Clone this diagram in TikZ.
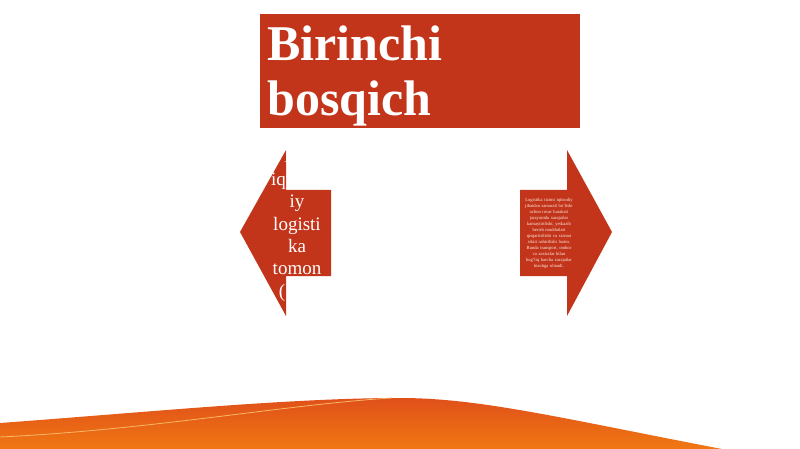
\documentclass[tikz,border=0pt]{standalone}
\usepackage{fontspec}
\setmainfont{Liberation Serif}
\usepackage{xcolor}
\usepackage{tikz}
\definecolor{boxred}{HTML}{C3351A}
\definecolor{wavetop}{HTML}{E0501A}
\definecolor{wavebot}{HTML}{F07812}
\definecolor{waveline}{HTML}{F8B868}
\definecolor{paletext}{HTML}{FBEDE4}
\tikzset{
    arrowfill/.style = {fill = boxred, draw = none},
    armtext/.style = {text = white, inner sep = 0pt, align = center}
}

\begin{document}
\begin{tikzpicture}[x = 1pt, y = -1pt]
            \useasboundingbox (0, 0) rectangle (800, 449);
            \fill[white] (0, 0) rectangle (800, 449);

            % bottom wave
            \shade[top color = wavetop, bottom color = wavebot]
                (0, 423) .. controls (150, 412) and (290, 398) .. (400, 398)
                .. controls (480, 398) and (560, 418) .. (722, 449)
                -- (0, 449) -- cycle;
            \draw[waveline, line width = 0.8pt]
                (0, 437) .. controls (150, 430) and (290, 404) .. (392, 398);

            % title
            \fill[boxred] (260, 14) rectangle (580, 128);
            \node[anchor = base west, inner sep = 0pt, text = white, align = left,
                font = \fontsize{50}{55}\selectfont\bfseries] (title)
                at (267, 116) {Birinchi\\bosqich};

            % left arrow
            \fill[arrowfill] (240, 232) -- (286, 150) -- (286, 190) -- (331, 190)
                -- (331, 276) -- (286, 276) -- (286, 316) -- cycle;
            \node[armtext, font = \fontsize{19}{22.4}\selectfont] (lefttext)
                at (297, 226) {Ma\\iqtisod\\iy\\logisti\\ka\\tomon\\(1.1)};

            % right arrow
            \fill[arrowfill] (612, 232) -- (567, 150) -- (567, 190) -- (520, 190)
                -- (520, 276) -- (567, 276) -- (567, 316) -- cycle;
            \node[armtext, text = paletext, text width = 48pt,
                font = \fontsize{4.6}{6}\selectfont] (righttext)
                at (549, 233) {Logistika tizimi iqtisodiy jihatdan samarali
                bo'lishi uchun tovar harakati jarayonida xarajatlar kamaytirilishi,
                yetkazib berish muddatlari qisqartirilishi va xizmat sifati
                oshirilishi lozim. Bunda transport, ombor va zaxiralar bilan
                bog'liq barcha xarajatlar hisobga olinadi.};
        \end{tikzpicture}
\end{document}
